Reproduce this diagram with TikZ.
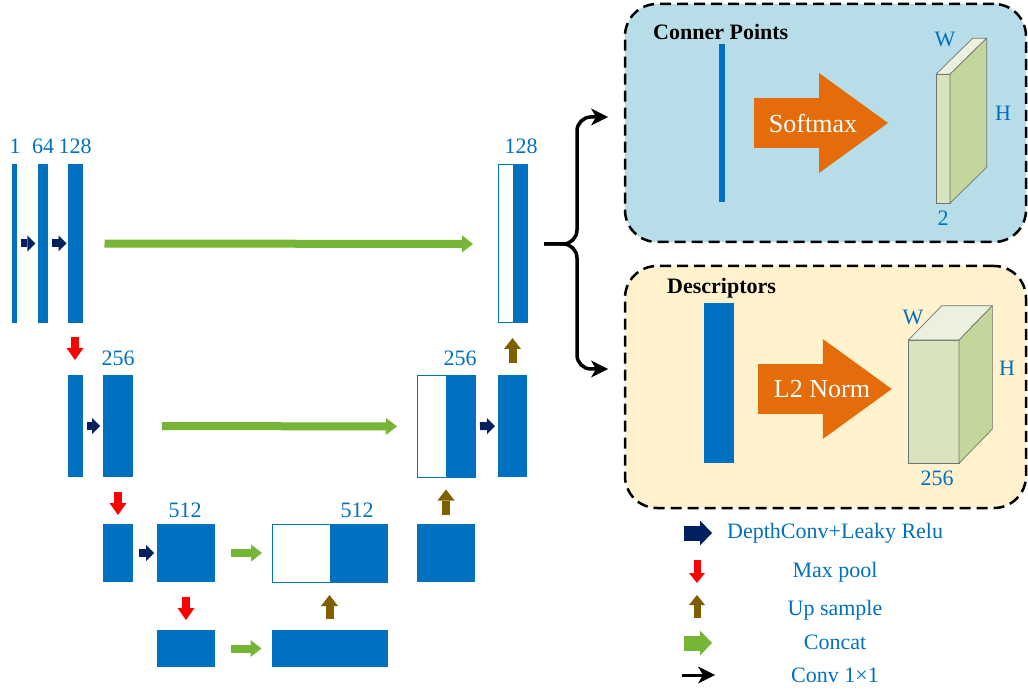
\documentclass[tikz,border=0pt]{standalone}
\usepackage{fontspec}
\setmainfont{Liberation Serif}
\usepackage{tikz}
\usetikzlibrary{arrows.meta}
\usepackage{color}
\definecolor{netblue}{HTML}{0070C0}
\definecolor{convnavy}{HTML}{002060}
\definecolor{poolred}{HTML}{FF0000}
\definecolor{upbrown}{HTML}{7F6000}
\definecolor{catgreen}{HTML}{77B536}
\definecolor{normorange}{HTML}{E46C0A}
\definecolor{cpfill}{HTML}{B7DEE8}
\definecolor{descfill}{HTML}{FFF2CC}
\definecolor{cubefront}{HTML}{D7E4BD}
\definecolor{cubeside}{HTML}{C3D69B}
\definecolor{cubetop}{HTML}{EBF1DE}
\newcommand{\lblsize}{\fontsize{22}{26}\selectfont}
\newcommand{\normsize}{\fontsize{26}{30}\selectfont}

\tikzset{
  bar/.style 2 args={fill=netblue, inner sep=0, outer sep=0, minimum width=#1, minimum height=#2},
  catbar/.style 2 args={draw=netblue, line width=1pt, fill=white, inner sep=0, outer sep=0, minimum width=#1, minimum height=#2},
  lbl/.style={text=netblue, font=\lblsize, inner sep=0},
  ttl/.style={font=\lblsize\bfseries, inner sep=0, anchor=west},
  panel/.style={draw=black, line width=2.5pt, dash pattern=on 11pt off 6pt, rounded corners=32pt, inner sep=0, outer sep=0},
  cube/.style={draw=black!55, line width=0.7pt, fill=cubefront, inner sep=0, outer sep=0},
  face/.style={draw=black!55, line width=0.7pt, line join=round},
  conv/.style={draw=convnavy, line width=8pt, shorten <=4pt, shorten >=3pt, -{Triangle[length=8pt,width=16pt,line width=0pt]}},
  pool/.style={draw=poolred, line width=8pt, -{Triangle[length=12pt,width=17pt,line width=0pt]}},
  upsamp/.style={draw=upbrown, line width=8pt, -{Triangle[length=11pt,width=17pt,line width=0pt]}},
  concat/.style={draw=catgreen, line width=8pt, -{Triangle[length=11pt,width=17pt,line width=0pt]}},
  wide/.style={line width=15pt, shorten <=0pt, shorten >=0pt, -{Triangle[length=12pt,width=25pt,line width=0pt]}},
  norm/.style={draw=normorange, line width=50pt, -{Triangle[length=69pt,width=100pt,line width=0pt]}},
  normtxt/.style={text=white, font=\normsize, inner sep=0},
  onexone/.style={draw=black, line width=3.5pt, -{Stealth[length=17pt,width=17pt,inset=5pt,line width=0pt]}}
}

\begin{document}
\begin{tikzpicture}[x=1pt,y=-1pt]
\useasboundingbox (0,0) rectangle (1028,692);

% encoder / decoder
\node (c1) at (14.5,243.5) [bar={5}{159}] {};
\node (c64) at (43.3,243.5) [bar={10}{159}] {};
\node (c128) at (75,243.5) [bar={15}{159}] {};
\node (cat128) at (512.5,244) [catbar={29}{158}] {};
\fill[netblue] (cat128.north) rectangle (cat128.south east);

\node (r2a) at (75,426) [bar={15}{102}] {};
\node (r2b) at (118,426) [bar={30}{102}] {};
\node (cat256) at (446,426.5) [catbar={58}{102}] {};
\fill[netblue] (cat256.north) rectangle (cat256.south east);
\node (r2c) at (512.5,426) [bar={29}{102}] {};

\node (r3a) at (118,553) [bar={30}{58}] {};
\node (r3b) at (186,553) [bar={58}{58}] {};
\node (cat512) at (329.5,553) [catbar={115}{58}] {};
\fill[netblue] (cat512.north) rectangle (cat512.south east);
\node (r3c) at (446,553) [bar={58}{58}] {};

\node (r4a) at (186,648.5) [bar={58}{37}] {};
\node (r4b) at (329.5,648.5) [bar={116}{37}] {};

\node (t1) at (15,146) [lbl] {1};
\node (t64) at (43,146) [lbl] {64};
\node (t128) at (75,146) [lbl] {128};
\node (u128) at (521,146) [lbl] {128};
\node (t256) at (118,358) [lbl] {256};
\node (u256) at (460,358) [lbl] {256};
\node (t512) at (185,510) [lbl] {512};
\node (u512) at (357,510) [lbl] {512};

\draw[conv] (c1) -- (c64);
\draw[conv, shorten >=1pt] (c64) -- (c128);
\draw[conv] (r2a) -- (r2b);
\draw[conv, shorten <=5pt] (cat256) -- (r2c);
\draw[conv, shorten <=6pt] (r3a) -- (r3b);

\draw[concat, shorten <=22pt, shorten >=25pt] (c128) -- (cat128);
\draw[concat, shorten <=29pt, shorten >=20pt] (r2b) -- (cat256);
\draw[concat, shorten <=16pt, shorten >=10pt] (r3b) -- (cat512);
\draw[concat, shorten <=16pt, shorten >=10pt] (r4a) -- (r4b);

\draw[pool, shorten <=14pt, shorten >=15pt] (c128) -- (r2a);
\draw[pool, shorten <=15pt, shorten >=9pt] (r2b) -- (r3a);
\draw[pool, shorten <=15pt, shorten >=10pt] (r3b) -- (r4a);

\draw[upsamp, shorten <=12pt, shorten >=15pt] (r2c) -- (cat128);
\draw[upsamp, shorten <=9pt, shorten >=12pt] (r3c) -- (cat256);
\draw[upsamp, shorten <=11pt, shorten >=13pt] (r4b) -- (cat512);

% heads
\node (cpbox) at (825.5,123) [panel, fill=cpfill, minimum width=401, minimum height=238] {};
\node (descbox) at (825.5,387) [panel, fill=descfill, minimum width=401, minimum height=242] {};

\draw[onexone, rounded corners=14pt] ([xshift=17pt]cat128.east) -- ++(33,0) |- ([yshift=6pt]cpbox.west) [shorten >=17pt];
\draw[onexone, rounded corners=14pt] ([xshift=17pt]cat128.east) -- ++(33,0) |- ([yshift=18pt]descbox.west) [shorten >=17pt];

\node (cptitle) at (653,32) [ttl] {Conner Points};
\node (desctitle) at (667,288) [ttl] {Descriptors};

\node (cpbar) at (722,123) [bar={5.4}{158}] {};
\node (descbar) at (719,383) [bar={30}{159}] {};

\node (cpcube) at (943,138.7) [cube, minimum width=14, minimum height=129] {};
\draw[face, fill=cubetop] (cpcube.north west) -- (cpcube.north east) -- ++(36.7,-36) -- ++(-14,0) -- cycle;
\draw[face, fill=cubeside] (cpcube.north east) -- ++(36.7,-36) -- ++(0,129) -- (cpcube.south east) -- cycle;

\node (desccube) at (933.7,401.7) [cube, minimum width=50.7, minimum height=123.3] {};
\draw[face, fill=cubetop] (desccube.north west) -- (desccube.north east) -- ++(33.3,-34.3) -- ++(-50.7,0) -- cycle;
\draw[face, fill=cubeside] (desccube.north east) -- ++(33.3,-34.3) -- ++(0,123.3) -- (desccube.south east) -- cycle;

\coordinate (cmid) at (813,123);
\coordinate (dmid) at (822,389);
\draw[norm, shorten <=29.5pt, shorten >=48pt] (cpbar.east |- cmid) -- (cpcube.west |- cmid);
\draw[norm, shorten <=23.7pt, shorten >=16.6pt] (descbar.east |- dmid) -- (desccube.west |- dmid);
\node (softmax) at (cmid) [normtxt] {Softmax};
\node (l2norm) at (dmid) [normtxt] {L2 Norm};

\node (cpw) at (945,39) [lbl] {W};
\node (cph) at (1003,113) [lbl] {H};
\node (cpc) at (943,218) [lbl] {2};
\node (dw) at (913,317) [lbl] {W};
\node (dh) at (1007,368) [lbl] {H};
\node (dc) at (937,478) [lbl] {256};

% legend
\coordinate (k1) at (684,533);
\coordinate (k2) at (697,560);
\coordinate (k3) at (697,618);
\coordinate (k4) at (684,643);
\coordinate (k5) at (682,675);
\draw[conv, wide] (k1) -- ++(28,0);
\draw[pool, line width=7pt, -{Triangle[length=10pt,width=16pt,line width=0pt]}] (k2) -- ++(0,23);
\draw[upsamp, line width=7pt, -{Triangle[length=10pt,width=16pt,line width=0pt]}] (k3) -- ++(0,-23);
\draw[concat, wide] (k4) -- ++(28,0);
\draw[onexone, line width=3pt] (k5) -- ++(33,0);

\node (lconv) at (727,533) [lbl, anchor=west] {DepthConv+Leaky Relu};
\node (lpool) at (835,572) [lbl] {Max pool};
\node (lup) at (835,610) [lbl] {Up sample};
\node (lcat) at (835,642) [lbl] {Concat};
\node (lone) at (835,675) [lbl] {Conv 1×1};
\end{tikzpicture}
\end{document}
